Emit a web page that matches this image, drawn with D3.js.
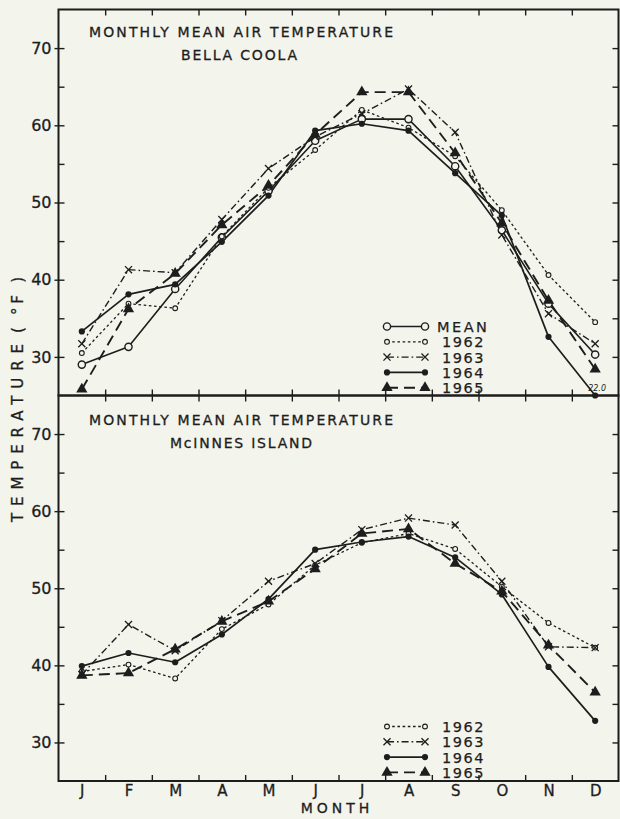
<!DOCTYPE html>
<html><head><meta charset="utf-8">
<script src="https://cdn.jsdelivr.net/npm/d3@7"></script>
<style>
html,body{margin:0;padding:0;background:#f3f4ec;}
svg{display:block;}
text{font-family:"DejaVu Sans","Liberation Sans",sans-serif;fill:#1e1e1e;}
</style></head><body>
<svg id="chart" width="620" height="819"></svg>
<script>
// ---------- data ----------
const months = ["J","F","M","A","M","J","J","A","S","O","N","D"];
const yTickValues = [30, 40, 50, 60, 70];
const yMinorValues = [30, 35, 40, 45, 50, 55, 60, 65, 70];

// Bella Coola (°F)
const bellaMean = [29.0, 31.3, 38.8, 45.5, 51.5, 58.0, 60.8, 60.8, 54.7, 46.4, 36.9, 30.3];
const bella1962 = [30.5, 36.9, 36.3, 45.6, 51.9, 56.8, 62.0, 59.7, 56.0, 49.0, 40.6, 34.5];
const bella1963 = [31.7, 41.3, 40.9, 47.8, 54.4, 58.5, 61.5, 64.7, 59.1, 45.8, 35.6, 31.7];
const bella1964 = [33.3, 38.1, 39.4, 44.9, 50.9, 59.3, 60.2, 59.3, 53.8, 48.3, 32.6, 22.0];
const bella1965 = [25.8, 36.2, 40.8, 47.1, 52.2, 58.8, 64.3, 64.3, 56.4, 47.3, 37.3, 28.4];

// McInnes Island (°F)
const mcin1962 = [39.2, 40.1, 38.3, 44.7, 47.9, 53.0, 55.9, 57.1, 55.1, 50.2, 45.5, 42.3];
const mcin1963 = [38.8, 45.3, 41.9, 45.8, 50.9, 53.2, 57.6, 59.1, 58.2, 50.9, 42.4, 42.3];
const mcin1964 = [39.9, 41.6, 40.4, 44.0, 48.6, 55.0, 56.0, 56.7, 54.0, 49.2, 39.8, 32.8];
const mcin1965 = [38.7, 39.0, 42.1, 45.7, 48.3, 52.5, 57.1, 57.7, 53.2, 49.6, 42.6, 36.5];

const legendTop = ["MEAN", "1962", "1963", "1964", "1965"];
const legendBottom = ["1962", "1963", "1964", "1965"];
const titleLine = "MONTHLY MEAN AIR TEMPERATURE";
const bellaName = "BELLA COOLA";
const mcinName = "McINNES ISLAND";
const xTitle = "MONTH";
const yTitleA = "TEMPERATURE";
const yTitleB = "( °F )";

// ---------- drawing ----------
const ink = "#1d1d1d", paper = "#f3f4ec";
const svg = d3.select("#chart");
svg.append("rect").attr("width", 620).attr("height", 819).attr("fill", paper);

const left = 58.5, right = 618.5;
const x = d3.scalePoint().domain(d3.range(12)).range([left, right]).padding(0.5);
const xb = d3.scaleLinear().domain([0, 12]).range([left, right]);

const styles = {
  "MEAN": {w: 1.6, dash: null, marker: "openBig"},
  "1962": {w: 1.3, dash: "2.6,2.6", marker: "openSmall"},
  "1963": {w: 1.4, dash: "7,3,1.6,3", marker: "cross"},
  "1964": {w: 1.7, dash: null, marker: "dot"},
  "1965": {w: 1.9, dash: "11,6", marker: "tri"}
};

function marker(g, type, cx, cy) {
  if (type === "openBig") {
    g.append("circle").attr("cx", cx).attr("cy", cy).attr("r", 3.6)
      .attr("fill", paper).attr("stroke", ink).attr("stroke-width", 1.4);
  } else if (type === "openSmall") {
    g.append("circle").attr("cx", cx).attr("cy", cy).attr("r", 2.4)
      .attr("fill", paper).attr("stroke", ink).attr("stroke-width", 1.1);
  } else if (type === "cross") {
    g.append("path").attr("d", d3.symbol(d3.symbolTimes, 34)())
      .attr("transform", `translate(${cx},${cy})`)
      .attr("fill", "none").attr("stroke", ink).attr("stroke-width", 1.3);
  } else if (type === "dot") {
    g.append("circle").attr("cx", cx).attr("cy", cy).attr("r", 3.1).attr("fill", ink);
  } else if (type === "tri") {
    g.append("path").attr("d", d3.symbol(d3.symbolTriangle, 55)())
      .attr("transform", `translate(${cx},${cy})`).attr("fill", ink);
  }
}

const panels = [
  {top: 9.5, bottom: 395.5, place: bellaName,
   series: [["MEAN", bellaMean], ["1962", bella1962], ["1963", bella1963], ["1964", bella1964], ["1965", bella1965]],
   legend: legendTop, legendY: 326.5, titleY: 37, placeY: 60, placeX0: 181, placeX1: 297},
  {top: 395.5, bottom: 781, place: mcinName,
   series: [["1962", mcin1962], ["1963", mcin1963], ["1964", mcin1964], ["1965", mcin1965]],
   legend: legendBottom, legendY: 726.5, titleY: 425, placeY: 448, placeX0: 170, placeX1: 312}
];

function styleAxis(sel, fs) {
  sel.select(".domain").remove();
  sel.selectAll(".tick line").attr("stroke", ink).attr("stroke-width", 1.4);
  sel.selectAll(".tick text").attr("font-size", fs).attr("fill", ink)
    .attr("stroke", ink).attr("stroke-width", 0.3)
    .attr("font-family", '"DejaVu Sans","Liberation Sans",sans-serif');
}

panels.forEach(p => {
  const y = d3.scaleLinear().domain([25, 75]).range([p.bottom, p.top]).clamp(true);
  const g = svg.append("g");

  // axes / ticks
  g.append("g").attr("transform", `translate(${left},0)`)
    .call(d3.axisLeft(y).tickValues(yMinorValues).tickSizeInner(-6).tickSizeOuter(0)
      .tickPadding(7).tickFormat(d => yTickValues.includes(d) ? d : ""))
    .call(s => styleAxis(s, 16));
  g.append("g").attr("transform", `translate(${left},0)`)
    .call(d3.axisLeft(y).tickValues(yTickValues).tickSize(4).tickFormat(""))
    .call(s => styleAxis(s, 16));
  g.append("g").attr("transform", `translate(${right},0)`)
    .call(d3.axisRight(y).tickValues(yMinorValues).tickSize(-6).tickFormat(""))
    .call(s => styleAxis(s, 16));
  g.append("g").attr("transform", `translate(0,${p.bottom})`)
    .call(d3.axisBottom(xb).tickValues(d3.range(1, 12)).tickSize(-6).tickFormat(""))
    .call(s => styleAxis(s, 15));
  g.append("g").attr("transform", `translate(0,${p.top})`)
    .call(d3.axisTop(xb).tickValues(d3.range(1, 12)).tickSize(-6).tickFormat(""))
    .call(s => styleAxis(s, 15));

  // frame
  g.append("rect").attr("x", left).attr("y", p.top).attr("width", right - left)
    .attr("height", p.bottom - p.top).attr("fill", "none").attr("stroke", ink).attr("stroke-width", 2);

  // titles
  g.append("text").attr("x", 89).attr("y", p.titleY).attr("font-size", 14)
    .attr("stroke", ink).attr("stroke-width", 0.3)
    .attr("textLength", 304).attr("lengthAdjust", "spacing").text(titleLine);
  g.append("text").attr("x", p.placeX0).attr("y", p.placeY).attr("font-size", 14)
    .attr("stroke", ink).attr("stroke-width", 0.3)
    .attr("textLength", p.placeX1 - p.placeX0).attr("lengthAdjust", "spacing").text(p.place);

  // series
  const line = d3.line().x((d, i) => x(i)).y(d => y(d));
  p.series.forEach(([name, vals]) => {
    const st = styles[name];
    g.append("path").attr("d", line(vals)).attr("fill", "none").attr("stroke", ink)
      .attr("stroke-width", st.w).attr("stroke-dasharray", st.dash)
      .attr("stroke-linejoin", "round");
  });
  p.series.forEach(([name, vals]) => {
    const st = styles[name];
    vals.forEach((v, i) => {
      marker(g, st.marker, x(i), y(v));
      if (v < y.domain()[0]) {
        g.append("text").attr("x", x(i) - 7).attr("y", y(v) - 5)
          .attr("font-size", 8).attr("font-style", "italic").text(d3.format(".1f")(v));
      }
    });
  });

  // legend
  p.legend.forEach((name, k) => {
    const st = styles[name];
    const ly = p.legendY + k * 15.3;
    g.append("line").attr("x1", 387).attr("x2", 425).attr("y1", ly).attr("y2", ly)
      .attr("stroke", ink).attr("stroke-width", st.w).attr("stroke-dasharray", st.dash);
    marker(g, st.marker, 387, ly);
    marker(g, st.marker, 425, ly);
    g.append("text").attr("x", name === "MEAN" ? 437 : 442).attr("y", ly + 5.5)
      .attr("font-size", 14.5).attr("stroke", ink).attr("stroke-width", 0.25)
      .attr("letter-spacing", name === "MEAN" ? 2.5 : 1.5).text(name);
  });

  if (p === panels[1]) {
    g.append("g").attr("transform", `translate(0,${p.bottom})`)
      .call(d3.axisBottom(x).tickSize(0).tickPadding(4).tickFormat(i => months[i]))
      .call(s => styleAxis(s, 15));
  }
});

// axis titles
svg.append("text").attr("x", 337).attr("y", 813).attr("text-anchor", "middle")
  .attr("stroke", ink).attr("stroke-width", 0.3)
  .attr("font-size", 14).attr("letter-spacing", 4).text(xTitle);
svg.append("text").attr("transform", "translate(23,433) rotate(-90)").attr("text-anchor", "middle")
  .attr("stroke", ink).attr("stroke-width", 0.3)
  .attr("font-size", 15).attr("textLength", 178).attr("lengthAdjust", "spacing").text(yTitleA);
svg.append("text").attr("transform", "translate(23,305) rotate(-90)").attr("text-anchor", "middle")
  .attr("stroke", ink).attr("stroke-width", 0.3)
  .attr("font-size", 15).attr("textLength", 56).attr("lengthAdjust", "spacing").text(yTitleB);
</script>
</body></html>
